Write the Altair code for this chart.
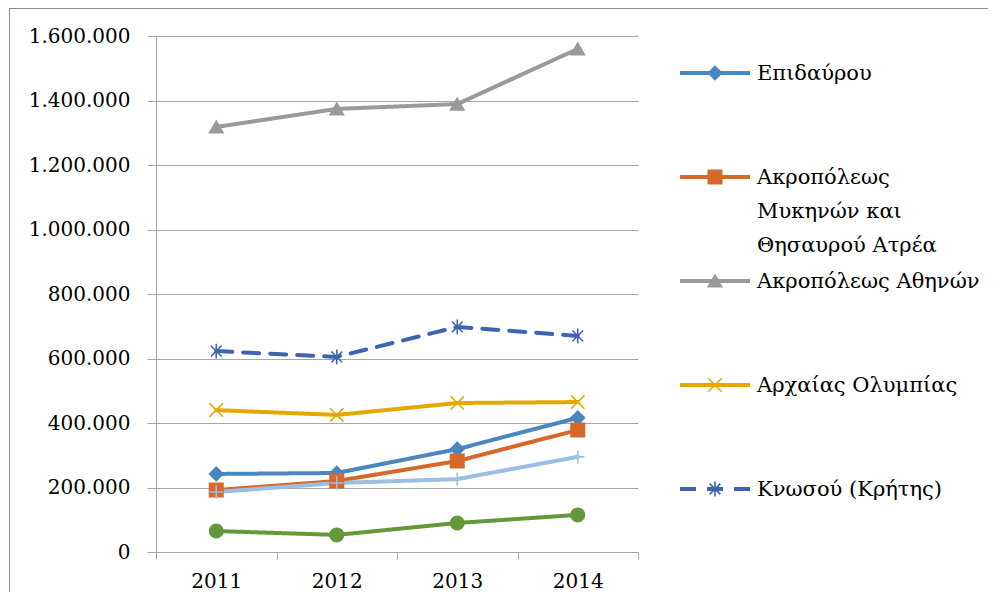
import altair as alt
import pandas as pd

# ---- data ----
years = [2011, 2012, 2013, 2014]
series_names = [
    "Επιδαύρου",
    "Ακροπόλεως Μυκηνών και Θησαυρού Ατρέα",
    "Ακροπόλεως Αθηνών",
    "Αρχαίας Ολυμπίας",
    "Κνωσού (Κρήτης)",
    "Δελφών",
    "Βεργίνας",
]
epidavrou = [242000, 245000, 319000, 416000]
mykinon = [192000, 220000, 282000, 378000]
athinon = [1318000, 1374000, 1389000, 1560000]
olympias = [440000, 425000, 462000, 465000]
knosou = [623000, 605000, 698000, 670000]
delfon = [186000, 214000, 226000, 295000]
verginas = [65000, 53000, 90000, 115000]
all_values = [epidavrou, mykinon, athinon, olympias, knosou, delfon, verginas]

legend_names = series_names[:5]
legend_labels = [
    "Επιδαύρου",
    "Ακροπόλεως\nΜυκηνών και\nΘησαυρού Ατρέα",
    "Ακροπόλεως Αθηνών",
    "Αρχαίας Ολυμπίας",
    "Κνωσού (Κρήτης)",
]
y_ticks = [0, 200000, 400000, 600000, 800000, 1000000, 1200000, 1400000, 1600000]
x_ticks = [2010.5, 2011, 2011.5, 2012, 2012.5, 2013, 2013.5, 2014, 2014.5]

# ---- styles ----
colors = ["#4A86BF", "#D5692B", "#9A9A9A", "#E6A800", "#3E63B0", "#9DBEE3", "#64983A"]
x_path = "M-1,-1L1,1M-1,1L1,-1"
star_path = "M-0.8,-0.8L0.8,0.8M-0.8,0.8L0.8,-0.8M0,-1.1L0,1.1"
plus_path = "M-1,0L1,0M0,-1L0,1"
shapes = ["diamond", "square", "triangle-up", x_path, star_path, plus_path, "circle"]
dashes = [[1, 0], [1, 0], [1, 0], [1, 0], [16, 11], [1, 0], [1, 0]]
FONT = "DejaVu Serif"
FS = 20
LEG_FS = 21
GRID = "#A6A6A6"

rows = []
for name, vals in zip(series_names, all_values):
    for yr, v in zip(years, vals):
        rows.append({"series": name, "year": yr, "value": v})
df = pd.DataFrame(rows)

legend_df = pd.DataFrame({"series": legend_names, "label": legend_labels})

color_scale = alt.Scale(domain=series_names, range=colors)
shape_scale = alt.Scale(domain=series_names, range=shapes)
dash_scale = alt.Scale(domain=series_names, range=dashes)

x_axis = alt.Axis(
    values=x_ticks,
    labelExpr="datum.value % 1 === 0 ? '' + datum.value : ''",
    grid=False,
    title=None,
    domainColor=GRID,
    tickColor=GRID,
    tickSize=7,
    tickOpacity={"condition": {"test": "datum.value % 1 === 0", "value": 0}, "value": 1},
    labelFont=FONT,
    labelFontSize=FS,
    labelColor="black",
    labelPadding=12,
    labelOverlap=False,
    labelFlush=False,
)
y_axis = alt.Axis(
    values=y_ticks,
    labelExpr="replace(replace(format(datum.value, ','), ',', '.'), ',', '.')",
    title=None,
    grid=True,
    gridColor=GRID,
    domainColor=GRID,
    tickColor=GRID,
    tickSize=9,
    labelFont=FONT,
    labelFontSize=FS,
    labelColor="black",
    labelPadding=17,
)
x_scale = alt.Scale(domain=[2010.5, 2014.5], nice=False, zero=False)
y_scale = alt.Scale(domain=[0, 1600000], nice=False)

base = alt.Chart(df)
lines = base.mark_line(strokeWidth=4, strokeCap="round", strokeJoin="round").encode(
    x=alt.X("year:Q", scale=x_scale, axis=x_axis),
    y=alt.Y("value:Q", scale=y_scale, axis=y_axis),
    color=alt.Color("series:N", scale=color_scale, legend=None),
    strokeDash=alt.StrokeDash("series:N", scale=dash_scale, legend=None),
    detail="series:N",
)
points = base.mark_point(filled=True, size=180, strokeWidth=1.6, opacity=1).encode(
    x=alt.X("year:Q", scale=x_scale, axis=x_axis),
    y=alt.Y("value:Q", scale=y_scale, axis=y_axis),
    fill=alt.Fill("series:N", scale=color_scale, legend=None),
    stroke=alt.Stroke("series:N", scale=color_scale, legend=None),
    shape=alt.Shape("series:N", scale=shape_scale, legend=None),
)
main = alt.layer(lines, points)

# ---- legend drawn as its own layer ----
ly = alt.Y(
    "series:N",
    sort=legend_names,
    scale=alt.Scale(type="point", domain=legend_names, range=[37, 453], padding=0),
    axis=None,
)
lbase = alt.Chart(legend_df)
leg_rule = lbase.mark_rule(strokeWidth=4, strokeCap="butt").encode(
    x=alt.value(524),
    x2=alt.value(594),
    y=ly,
    color=alt.Color("series:N", scale=color_scale, legend=None),
    strokeDash=alt.StrokeDash("series:N", scale=dash_scale, legend=None),
)
leg_pt = lbase.mark_point(filled=True, size=180, strokeWidth=1.6, opacity=1).encode(
    x=alt.value(559),
    y=ly,
    fill=alt.Fill("series:N", scale=color_scale, legend=None),
    stroke=alt.Stroke("series:N", scale=color_scale, legend=None),
    shape=alt.Shape("series:N", scale=shape_scale, legend=None),
)
leg_txt = lbase.mark_text(
    align="left", baseline="alphabetic", dy=7, font=FONT, fontSize=LEG_FS,
    color="black", lineBreak="\n", lineHeight=34,
).encode(x=alt.value(601), y=ly, text="label:N")
legend_layer = alt.layer(leg_rule, leg_pt, leg_txt)

border = alt.Chart(pd.DataFrame({"k": [0]})).mark_rect(
    fillOpacity=0, stroke="#8C8C8C", strokeWidth=1
).encode(
    x=alt.value(-146.5), x2=alt.value(900), y=alt.value(-27.5), y2=alt.value(700)
)

chart = (
    alt.layer(main, legend_layer, border)
    .resolve_scale(y="independent")
    .properties(
        width=482,
        height=516,
        padding={"left": 148, "top": 28, "right": 350, "bottom": 40},
        autosize=alt.AutoSizeParams(type="none"),
        background="white",
    )
    .configure_view(strokeWidth=0)
)

chart.save("out.html", embed_options={"renderer": "svg", "actions": False})
